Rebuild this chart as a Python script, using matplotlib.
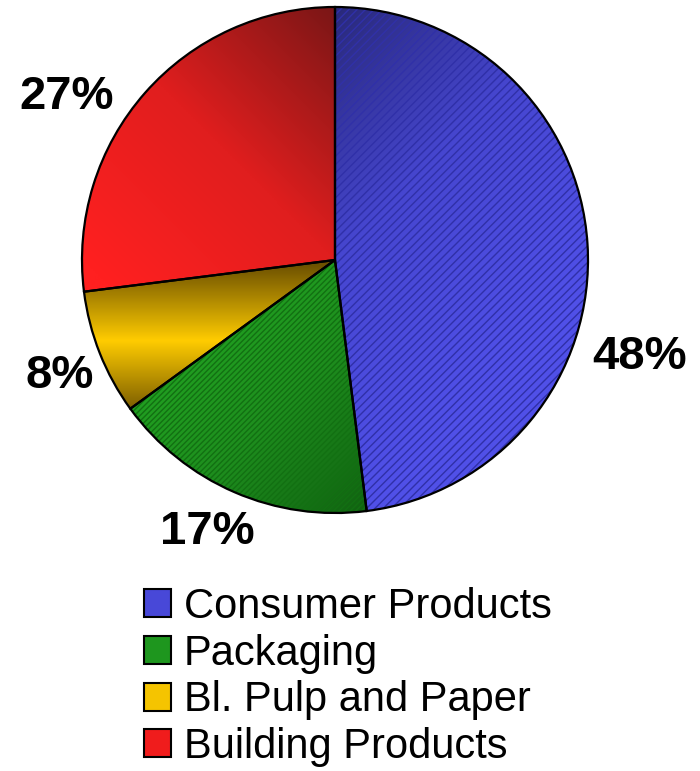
import numpy as np
import matplotlib.pyplot as plt
from matplotlib.colors import LinearSegmentedColormap
from matplotlib.patches import Patch

plt.rcParams['font.family'] = ['Liberation Sans', 'DejaVu Sans']

# data
segments = ["Consumer Products", "Packaging", "Bl. Pulp and Paper", "Building Products"]
shares = [48, 17, 8, 27]
pct_labels = ["48%", "17%", "8%", "27%"]
base_colors = ["#4848D8", "#1E961E", "#F5C400", "#F01C1C"]

# gradient colours per slice (dark -> light)
grad_colors = [
    ["#262670", "#4646D0", "#5050E8"],
    ["#0E5A0E", "#1E8E1E", "#22A822"],
    ["#6E5200", "#FFCC00", "#6E5200"],
    ["#7A1616", "#E01E1E", "#FF2020"],
]

fig = plt.figure(figsize=(7, 7.71), dpi=100)
cx, cy, r = 335, 260, 253
ax = fig.add_axes([(cx - r) / 700, (771 - cy - r) / 771, 2 * r / 700, 2 * r / 771])

wedges, _ = ax.pie(shares, startangle=90, counterclock=False, radius=1,
                   colors=base_colors,
                   wedgeprops=dict(edgecolor="black", linewidth=1.6))

# shading gradients clipped to each wedge
gx, gy = np.meshgrid(np.linspace(-1, 1, 300), np.linspace(-1, 1, 300))
fields = [
    np.clip((gx - gy) / 2.2 + 0.5, 0, 1),          # blue: dark top-left
    np.clip((-gx + gy) / 1.8 + 0.7, 0, 1),         # green: dark bottom-right
    np.clip((gy + 0.62) / 0.6, 0, 1),              # yellow: dark top & bottom
    np.clip((-gx - gy) / 2.0 + 0.5, 0, 1),         # red: dark top-right
]
for w, cols, f in zip(wedges, grad_colors, fields):
    cmap = LinearSegmentedColormap.from_list("g", cols)
    im = ax.imshow(f, cmap=cmap, extent=[-1, 1, -1, 1], origin="lower",
                   vmin=0, vmax=1, zorder=2, interpolation="bilinear")
    im.set_clip_path(w)

# fine hatching on blue and green
hatch_wedges, _ = ax.pie(shares, startangle=90, counterclock=False, radius=1,
                         colors=["none"] * 4,
                         wedgeprops=dict(edgecolor="none", linewidth=0))
for w, h, hc in zip(hatch_wedges, ["////", "//////", "", ""],
                    ["#3030A8", "#127012", "none", "none"]):
    w.set_hatch(h)
    w.set_edgecolor(hc)
    w.set_zorder(3)
for w in wedges:
    w.set_zorder(4)
    w.set_facecolor("none")

ax.set_xlim(-1.0, 1.0)
ax.set_ylim(-1.0, 1.0)
ax.set_aspect("equal")
ax.axis("off")

# percentage labels
label_pos = [(640, 357), (207, 532), (60, 376), (67, 97)]
for txt, (px, py) in zip(pct_labels, label_pos):
    fig.text(px / 700, 1 - py / 771, txt, fontsize=34, fontweight="bold",
             ha="center", va="center")

# legend
handles = [Patch(facecolor=c, edgecolor="black", linewidth=1.5) for c in base_colors]
fig.legend(handles, segments, loc="upper left", bbox_to_anchor=(144 / 700, 1 - 587 / 771),
           frameon=False, fontsize=30, handlelength=0.65, handleheight=0.65,
           handletextpad=0.3, labelspacing=0.16, borderpad=0, borderaxespad=0)

fig.savefig("out.png", dpi=100)
